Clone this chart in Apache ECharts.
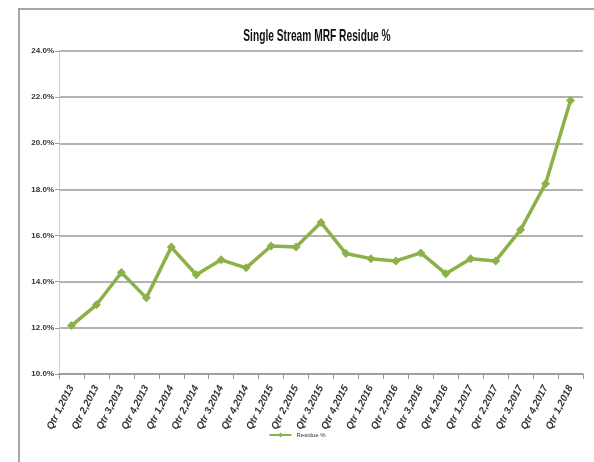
<!DOCTYPE html>
<html>
<head>
<meta charset="utf-8">
<script src="https://cdn.jsdelivr.net/npm/echarts@6/dist/echarts.min.js"></script>
<style>
  html, body { margin: 0; padding: 0; background: #fff; }
  #main { width: 594px; height: 462px; }
</style>
</head>
<body>
<div id="main"></div>
<script>
var quarters = ["Qtr 1,2013", "Qtr 2,2013", "Qtr 3,2013", "Qtr 4,2013",
  "Qtr 1,2014", "Qtr 2,2014", "Qtr 3,2014", "Qtr 4,2014",
  "Qtr 1,2015", "Qtr 2,2015", "Qtr 3,2015", "Qtr 4,2015",
  "Qtr 1,2016", "Qtr 2,2016", "Qtr 3,2016", "Qtr 4,2016",
  "Qtr 1,2017", "Qtr 2,2017", "Qtr 3,2017", "Qtr 4,2017",
  "Qtr 1,2018"];
var residue = [12.1, 13.0, 14.4, 13.3, 15.5, 14.3, 14.95, 14.6, 15.55, 15.5, 16.57,
  15.22, 15.0, 14.9, 15.25, 14.35, 15.0, 14.9, 16.25, 18.25, 21.85];

var fontSans = "'Liberation Sans', Arial, sans-serif";
var myChart = echarts.init(document.getElementById("main"));

myChart.setOption({
  backgroundColor: "#fff",
  animation: false,
  graphic: [
    // outer frame of the pasted excel chart
    { type: "line", shape: { x1: 18, y1: 9, x2: 594, y2: 9 }, style: { stroke: "#8a8a8a", lineWidth: 1.5 } },
    { type: "line", shape: { x1: 19, y1: 9, x2: 19, y2: 462 }, style: { stroke: "#8a8a8a", lineWidth: 1.5 } },
    // title, squeezed to look like the narrow excel font
    {
      type: "text",
      x: 317,
      y: 36,
      scaleX: 0.6,
      style: {
        text: "Single Stream MRF Residue %",
        font: "bold 17px " + fontSans,
        fill: "#111",
        textAlign: "center",
        textVerticalAlign: "middle"
      }
    }
  ],
  legend: {
    bottom: 19,
    left: "center",
    itemWidth: 22,
    itemHeight: 6,
    textStyle: { fontFamily: fontSans, fontSize: 6, color: "#333" },
    data: ["Residue %"]
  },
  grid: { left: 59, right: 11, top: 51, bottom: 88 },
  xAxis: {
    type: "category",
    data: quarters,
    boundaryGap: true,
    axisLine: { lineStyle: { color: "#999", width: 1.5 } },
    axisTick: { show: true, length: 5, lineStyle: { color: "#999" } },
    axisLabel: {
      rotate: 63,
      interval: 0,
      margin: 12,
      fontFamily: fontSans,
      fontSize: 10,
      fontStyle: "italic",
      fontWeight: "bold",
      color: "#333"
    }
  },
  yAxis: {
    type: "value",
    min: 10,
    max: 24,
    interval: 2,
    axisLine: { show: true, lineStyle: { color: "#ccc", width: 1 } },
    axisTick: { show: true, length: 4, lineStyle: { color: "#999" } },
    axisLabel: {
      formatter: function (v) { return v.toFixed(1) + "%"; },
      fontFamily: fontSans,
      fontSize: 8,
      fontWeight: "bold",
      color: "#333",
      margin: 5
    },
    splitLine: { lineStyle: { color: "#999", width: 1.5 } }
  },
  series: [
    {
      name: "Residue %",
      type: "line",
      data: residue,
      symbol: "diamond",
      symbolSize: 9,
      lineStyle: { color: "#8cb148", width: 3.5 },
      itemStyle: { color: "#8cb148" }
    }
  ]
});
</script>
</body>
</html>
